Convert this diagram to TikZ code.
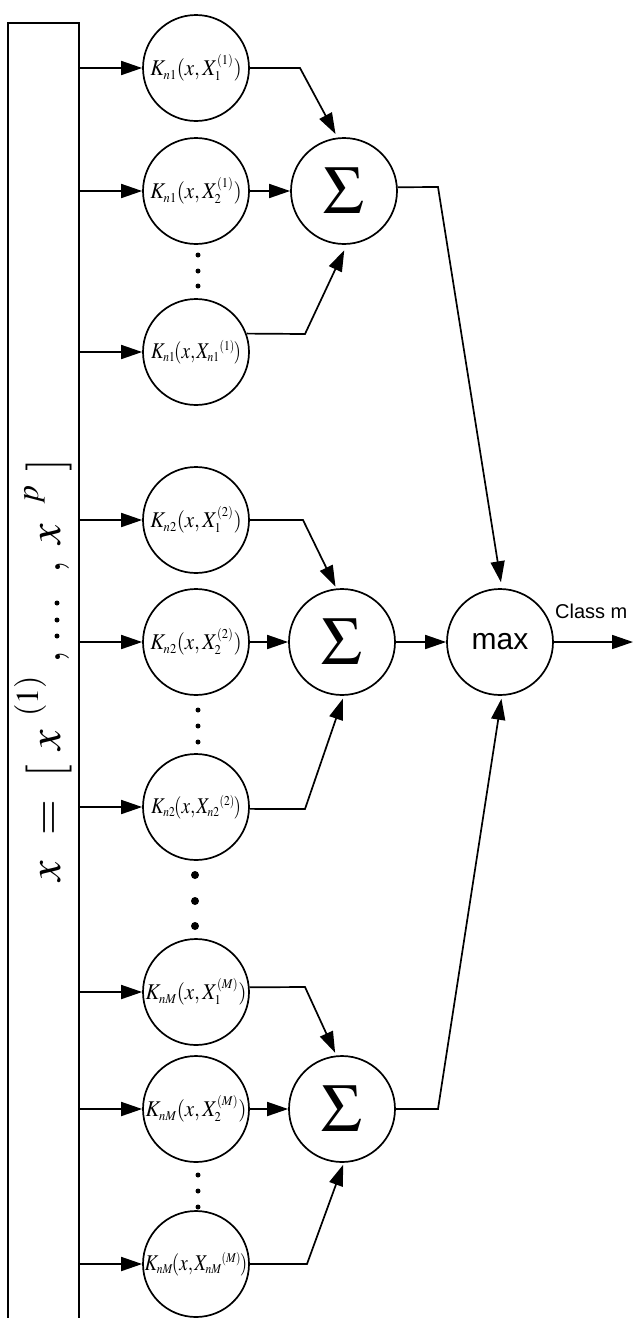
\documentclass[tikz,border=0pt]{standalone}
\usepackage{mathptmx}
\usepackage[no-math]{fontspec}
\setmainfont{Liberation Serif}
\setsansfont{Liberation Sans}
\usetikzlibrary{arrows.meta}
% smaller indices inside the kernel labels
\DeclareMathSizes{22.5}{22.5}{13.5}{10.5}

% kernel label K_{n g}(x, X_i^{(g)}), set slightly condensed
\newcommand{\kerlab}[3]{\scalebox{0.93}[1]{$K_{#1}(x{,}\mkern2mu X_{#2}^{(#3)})$}}
% last kernel of a class: superscript set after the subscript
\newcommand{\kerlast}[2]{\scalebox{0.85}[1]{$K_{#1}\mkern-1mu(x{,}\mkern1mu X_{#1}{}^{(#2)}\mkern-1mu)$}}

\tikzset{
  wire/.style={line width=1.7pt},
  feed/.style={wire, -{Triangle[length=21pt,width=14pt]}},
  unit/.style={circle, draw, line width=1.7pt, minimum size=106pt, inner sep=0pt},
  kern/.style={unit, font=\fontsize{22.5}{22.5}\selectfont},
  sumnode/.style={unit, font=\fontsize{68}{68}\selectfont},
  maxnode/.style={unit, font=\sffamily\fontsize{30}{30}\selectfont},
  vglyph/.style={rotate=90, anchor=base, inner sep=0pt, font=\fontsize{46}{46}\selectfont},
  vsup/.style={vglyph, font=\fontsize{32}{32}\selectfont},
  vdot/.style={fill, circle, inner sep=0pt, minimum size=5pt},
  bigdot/.style={fill, circle, inner sep=0pt, minimum size=8pt},
}

\begin{document}
\begin{tikzpicture}[x=1pt, y=-1pt]
  \useasboundingbox (0,0) rectangle (634,1318);
  \clip (0,0) rectangle (634,1318);

  % input bar, open at the lower edge
  \node[draw, line width=1.7pt, anchor=north west, minimum width=71pt,
        minimum height=1310pt, inner sep=0pt] (bar) at (7,22) {};

  % feature vector written along the bar
  \node[vglyph] (v1) at (60,871) {$x$};
  \node[vglyph] (v2) at (60,818) {$=$};
  \node[vglyph] (v3) at (60,771) {$[$};
  \node[vglyph] (v4) at (60,740) {$x$};
  \node[vsup]   (v5) at (38,696) {$(1)$};
  \node[vglyph] (v6) at (60,657) {$,$};
  \node[vdot] (v7) at (57,636) {};
  \node[vdot] (v8) at (57,620) {};
  \node[vdot] (v9) at (57,603) {};
  \node[vglyph] (v10) at (60,567) {$,$};
  \node[vglyph] (v11) at (60,534) {$x$};
  \node[vsup]   (v12) at (38,495) {$p$};
  \node[vglyph] (v13) at (60,465) {$]$};

  % kernel units, class 1
  \node[kern] (k11) at (196,68)  {\kerlab{n1}{1}{1}};
  \node[kern] (k12) at (196,191) {\kerlab{n1}{2}{1}};
  \node[kern] (k13) at (196,352) {\kerlast{n1}{1}};
  % kernel units, class 2
  \node[kern] (k21) at (196,520) {\kerlab{n2}{1}{2}};
  \node[kern] (k22) at (196,642) {\kerlab{n2}{2}{2}};
  \node[kern] (k23) at (196,807) {\kerlast{n2}{2}};
  % kernel units, class M
  \node[kern] (k31) at (196,992)  {\kerlab{nM}{1}{M}};
  \node[kern] (k32) at (196,1109) {\kerlab{nM}{2}{M}};
  \node[kern] (k33) at (196,1264) {\kerlast{nM}{M}};

  % summation units and decision unit
  \node[sumnode] (s1) at (344,191)  {$\Sigma$};
  \node[sumnode] (s2) at (342,642)  {$\Sigma$};
  \node[sumnode] (s3) at (342,1109) {$\Sigma$};
  \node[maxnode] (mx) at (500,642)  {max};
  \coordinate (out) at (633,642);
  \node[font=\sffamily\fontsize{20}{20}\selectfont, anchor=base west, inner sep=0pt]
       (cls) at (555,618) {Class m};

  % elided kernels
  \foreach \y [count=\i] in {255,271,286} \node[vdot] (d1\i) at (198,\y) {};
  \foreach \y [count=\i] in {710,726,742} \node[vdot] (d2\i) at (198,\y) {};
  \foreach \y [count=\i] in {1175,1191,1207} \node[vdot] (d3\i) at (198,\y) {};
  \foreach \y [count=\i] in {875,901,926} \node[bigdot] (e\i) at (195,\y) {};

  % bar to kernels
  \foreach \k in {k11,k12,k13,k21,k22,k23,k31,k32,k33}
    \draw[feed] (bar.east |- \k) -- (\k.west);

  % kernels to sums
  \draw[feed, shorten >=4pt] (k11.east) -- (300,68) -- (s1.97);
  \draw[feed] (k12) -- (s1);
  \draw[feed, shorten >=6pt] (k13.20) -- (305,334) -- (s1.-87);

  \draw[feed, shorten >=2pt] (k21.east) -- (303,520) -- (s2.96);
  \draw[feed] (k22) -- (s2);
  \draw[feed, shorten >=3pt] (k23.-2) -- (305,809) -- (s2.-88);

  \draw[feed, shorten >=3pt] (k31.5) -- (305,987) -- (s3.96);
  \draw[feed] (k32) -- (s3);
  \draw[feed, shorten >=2pt] (k33.east) -- (307,1264) -- (s3.-88);

  % sums to max
  \draw[feed, shorten >=6pt] (s1.4) -- (438,187) -- (mx.88);
  \draw[feed] (s2) -- (mx);
  \draw[feed, shorten >=3pt] (s3.east) -- (438,1109) -- (mx.-88);

  % decision output
  \draw[feed] (mx) -- (out);
\end{tikzpicture}
\end{document}
